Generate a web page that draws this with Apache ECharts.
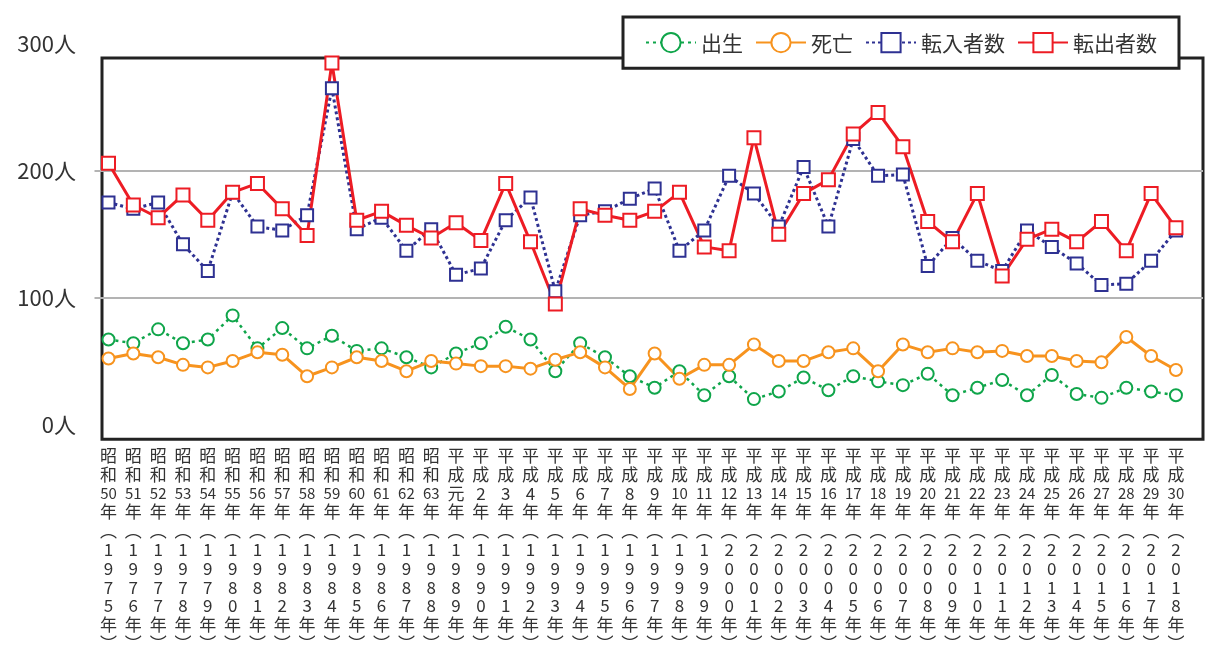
<!DOCTYPE html>
<html><head><meta charset="utf-8">
<script src="https://cdn.jsdelivr.net/npm/echarts@6/dist/echarts.min.js"></script>
<style>html,body{margin:0;padding:0;background:#fff}#c{width:1207px;height:653px}</style>
</head><body><div id="c"></div>
<script>
const eraLabels = ['昭和50年','昭和51年','昭和52年','昭和53年','昭和54年','昭和55年','昭和56年','昭和57年','昭和58年','昭和59年','昭和60年','昭和61年','昭和62年','昭和63年','平成元年','平成2年','平成3年','平成4年','平成5年','平成6年','平成7年','平成8年','平成9年','平成10年','平成11年','平成12年','平成13年','平成14年','平成15年','平成16年','平成17年','平成18年','平成19年','平成20年','平成21年','平成22年','平成23年','平成24年','平成25年','平成26年','平成27年','平成28年','平成29年','平成30年'];
const westernYears = [1975,1976,1977,1978,1979,1980,1981,1982,1983,1984,1985,1986,1987,1988,1989,1990,1991,1992,1993,1994,1995,1996,1997,1998,1999,2000,2001,2002,2003,2004,2005,2006,2007,2008,2009,2010,2011,2012,2013,2014,2015,2016,2017,2018];
const births  = [67,64,75,64,67,86,60,76,60,70,58,60,53,45,56,64,77,67,42,64,53,38,29,42,23,38,20,26,37,27,38,34,31,40,23,29,35,23,39,24,21,29,26,23];
const deaths  = [52,56,53,47,45,50,57,55,38,45,53,50,42,50,48,46,46,44,51,57,45,28,56,36,47,47,63,50,50,57,60,42,63,57,60,57,58,54,54,50,49,69,54,43];
const moveIn  = [175,170,175,142,121,183,156,153,165,265,154,163,137,154,118,123,161,179,105,165,168,178,186,137,153,196,182,156,203,156,225,196,197,125,147,129,121,153,140,127,110,111,129,153];
const moveOut = [206,173,163,181,161,183,190,170,149,285,161,168,157,147,159,145,190,144,95,170,165,161,168,183,140,137,226,150,182,193,229,246,219,160,144,182,117,146,154,144,160,137,182,155];
const yTickValues = [0,100,200,300];
const yGridValues = [100,200];
const seriesNames = ['出生','死亡','転入者数','転出者数'];

const Y_MIN = -11.6, Y_MAX = 288.9;
const X_MIN = -0.262, X_MAX = 44.09;
const FONT = '"Noto Sans CJK JP", "Noto Sans", sans-serif';

function verticalLabel(i) {
  const parts = eraLabels[i].match(/\d+|./g);
  const lines = parts.map(p => /^\d\d$/.test(p) ? '{n|' + p + '}' : p);
  lines.push('︵');
  String(westernYears[i]).split('').forEach(d => lines.push(d));
  lines.push('年');
  lines.push('︶');
  return lines.join('\n');
}
const toPts = arr => arr.map((v, i) => [i, v]);

const chart = echarts.init(document.getElementById('c'), null, {renderer: 'canvas'});
const inRange = yTickValues.filter(v => v >= Y_MIN && v <= Y_MAX);
const outRange = yTickValues.filter(v => v < Y_MIN || v > Y_MAX);

chart.setOption({
  animation: false,
  textStyle: {fontFamily: FONT},
  grid: {left: 102, right: 4, top: 58, bottom: 210, show: true, borderColor: '#222', borderWidth: 3, backgroundColor: 'transparent'},
  legend: {
    data: seriesNames,
    left: 623, top: 17,
    padding: [15, 22, 15, 22],
    itemWidth: 50, itemHeight: 24, itemGap: 12,
    backgroundColor: '#fff', borderColor: '#222', borderWidth: 3,
    textStyle: {fontSize: 21, color: '#333', fontFamily: FONT}
  },
  xAxis: {
    type: 'value', min: X_MIN, max: X_MAX,
    axisLine: {show: false}, axisTick: {show: false}, splitLine: {show: false},
    axisLabel: {
      customValues: eraLabels.map((_, i) => i),
      formatter: v => verticalLabel(Math.round(v)),
      fontSize: 17, lineHeight: 18.8, color: '#333', margin: 7,
      verticalAlign: 'top', align: 'center', fontFamily: FONT,
      rich: {n: {fontSize: 15, lineHeight: 18.8, color: '#333', fontFamily: FONT}}
    }
  },
  yAxis: {
    type: 'value', min: Y_MIN, max: Y_MAX,
    axisLine: {show: false},
    axisTick: {show: true, customValues: yGridValues, length: 14, lineStyle: {color: '#b3b3b3', width: 2}},
    splitLine: {show: true, lineStyle: {color: '#b3b3b3', width: 2}},
    axisLabel: {customValues: inRange, formatter: v => v + '人', fontSize: 22, color: '#333', margin: 26, fontFamily: FONT}
  },
  series: [
    {name: '出生', type: 'line', data: toPts(births), symbol: 'emptyCircle', symbolSize: 12, clip: false,
     lineStyle: {color: '#0fa54a', width: 2.5, type: [3, 4]}, itemStyle: {color: '#0fa54a', borderWidth: 2}},
    {name: '死亡', type: 'line', data: toPts(deaths), symbol: 'emptyCircle', symbolSize: 12, clip: false,
     lineStyle: {color: '#f7931e', width: 3}, itemStyle: {color: '#f7931e', borderWidth: 2.5}},
    {name: '転入者数', type: 'line', data: toPts(moveIn), symbol: 'emptyRect', symbolSize: 12, clip: false,
     lineStyle: {color: '#2e3192', width: 3, type: [3, 3]}, itemStyle: {color: '#2e3192', borderWidth: 2}},
    {name: '転出者数', type: 'line', data: toPts(moveOut), symbol: 'emptyRect', symbolSize: 13, clip: false,
     lineStyle: {color: '#ed1c24', width: 3}, itemStyle: {color: '#ed1c24', borderWidth: 2.5}}
  ]
});

// Tick labels that lie above the framed plot area, placed through the axis scale
const extra = outRange.map(v => {
  const p = chart.convertToPixel({gridIndex: 0}, [X_MIN, v]);
  return {type: 'text', x: p[0] - 26, y: p[1], z: 10,
    style: {text: v + '人', fontSize: 22, fill: '#333', align: 'right', verticalAlign: 'middle', fontFamily: FONT}};
});
chart.setOption({graphic: extra});
</script>
</body></html>
